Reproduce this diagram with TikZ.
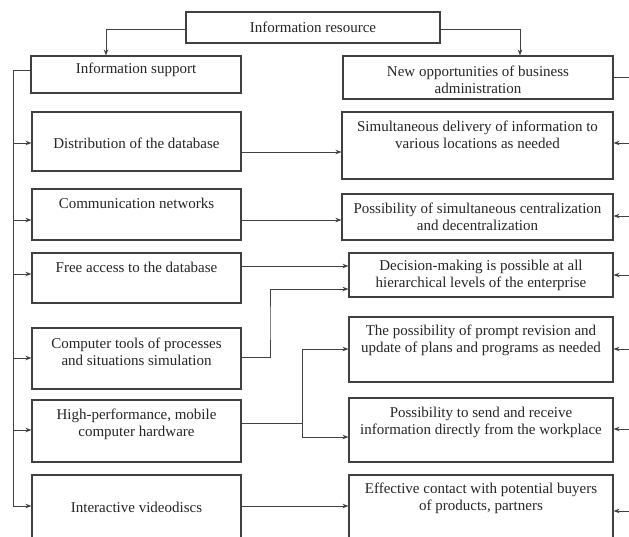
\documentclass[tikz,border=0pt]{standalone}
\usepackage{fontspec}
\setmainfont{Liberation Serif}
\usepackage{tikz}
\usetikzlibrary{arrows.meta, calc}

\tikzset{
    box/.style={draw=black!75, line width=1.1pt, fill=white, inner sep=0pt},
    lbox/.style={box, minimum width=209pt},
    rbox/.style={box, minimum width=264pt},
    txt/.style={inner sep=0pt, align=center, text=black!85,
        font=\fontsize{15}{17}\selectfont},
    line/.style={draw=black!75, line width=0.9pt},
    arr/.style={line, -{Stealth[length=6pt, width=4.5pt]}}
}

\begin{document}
\begin{tikzpicture}[x=1pt, y=-1pt]
    \useasboundingbox[fill=white] (0,0) rectangle (629,536);
    % Topo
    \node[box, minimum width=254pt, minimum height=31pt] (res) at (313,27.5) {};
    \node[box, minimum width=210pt, minimum height=37pt] (sup) at (136,74.5) {};
    \node[box, minimum width=270pt, minimum height=43pt] (nop) at (478,77.5) {};
    \node[txt] (res-t) at (res.center |- 0,27) {Information resource};
    \node[txt] (sup-t) at (sup.center |- 0,70) {Information support};
    \node[txt] (nop-t) at (nop.center |- 0,80) {New opportunities of business\\administration};
    % Coluna esquerda
    \node[lbox, minimum height=59pt] (dist) at (136.5,141.5) {};
    \node[lbox, minimum height=51pt] (comm) at (136.5,214.5) {};
    \node[lbox, minimum height=50pt] (free) at (136.5,278) {};
    \node[lbox, minimum height=61pt] (comp) at (136.5,358.5) {};
    \node[lbox, minimum height=62pt] (hw) at (136.5,431) {};
    \node[lbox, minimum height=70pt] (vid) at (136.5,510) {};
    \node[txt] (dist-t) at (dist.center |- 0,143) {Distribution of the database};
    \node[txt] (comm-t) at (comm.center |- 0,203) {Communication networks};
    \node[txt] (free-t) at (free.center |- 0,267) {Free access to the database};
    \node[txt] (comp-t) at (comp.center |- 0,351.5) {Computer tools of processes\\and situations simulation};
    \node[txt] (hw-t) at (hw.center |- 0,424) {High-performance, mobile\\computer hardware};
    \node[txt] (vid-t) at (vid.center |- 0,507) {Interactive videodiscs};
    % Coluna direita
    \node[box, minimum width=271pt, minimum height=67pt] (sdel) at (477.5,145.5) {};
    \node[box, minimum width=271pt, minimum height=46pt] (psim) at (477.5,217) {};
    \node[rbox, minimum height=44pt] (dec) at (481,275) {};
    \node[rbox, minimum height=65pt] (prev) at (481,349.5) {};
    \node[rbox, minimum height=64pt] (send) at (481,430) {};
    \node[rbox, minimum height=70pt] (eff) at (481,510) {};
    \node[txt] (sdel-t) at (sdel.center |- 0,134.5) {Simultaneous delivery of information to\\various locations as needed};
    \node[txt] (psim-t) at (psim.center |- 0,216.5) {Possibility of simultaneous centralization\\and decentralization};
    \node[txt] (dec-t) at (dec.center |- 0,275) {Decision-making is possible at all\\hierarchical levels of the enterprise};
    \node[txt] (prev-t) at (prev.center |- 0,340) {The possibility of prompt revision and\\update of plans and programs as needed};
    \node[txt] (send-t) at (send.center |- 0,422.5) {Possibility to send and receive\\information directly from the workplace};
    \node[txt] (eff-t) at (eff.center |- 0,498.5) {Effective contact with potential buyers\\of products, partners};
    % Setas do topo
    \draw[arr] (res.west |- 0,29) -| ([xshift=-30pt]sup.north);
    \draw[arr] (res.east |- 0,29) -| ([xshift=42pt]nop.north);
    % Barramentos
    \coordinate (lbus) at (13,70);
    \coordinate (rbus) at (640,77);
    \draw[line] (sup.west |- lbus) -- (lbus) -- (lbus |- 0,506);
    \draw[line] (nop.east |- rbus) -- (rbus) -- (rbus |- 0,511);
    \foreach \n/\y in {dist/143, comm/220, free/274, comp/358, hw/430, vid/506}
        \draw[arr] (lbus |- 0,\y) -- (\n.west |- 0,\y);
    \foreach \n/\y in {sdel/143, psim/216, dec/275, prev/349, send/429, eff/511}
        \draw[arr] (rbus |- 0,\y) -- (\n.east |- 0,\y);
    % Ligacoes
    \draw[arr] (dist.east |- 0,152) -- (sdel.west |- 0,152);
    \draw[arr] (comm.east |- 0,220) -- (psim.west |- 0,220);
    \draw[arr] (free.east |- 0,266) -- (dec.west |- 0,266);
    \coordinate (cj) at (270,323);
    \draw[arr] (comp.east |- 0,357) -| (cj) |- (dec.west |- 0,289);
    \coordinate (hj) at (302,423);
    \draw[line] (hw.east |- hj) -- (hj);
    \draw[arr] (hj) |- (prev.west |- 0,349);
    \draw[arr] (hj) |- (send.west |- 0,437);
    \draw[arr] (vid.east |- 0,506) -- (eff.west |- 0,506);
\end{tikzpicture}
\end{document}
